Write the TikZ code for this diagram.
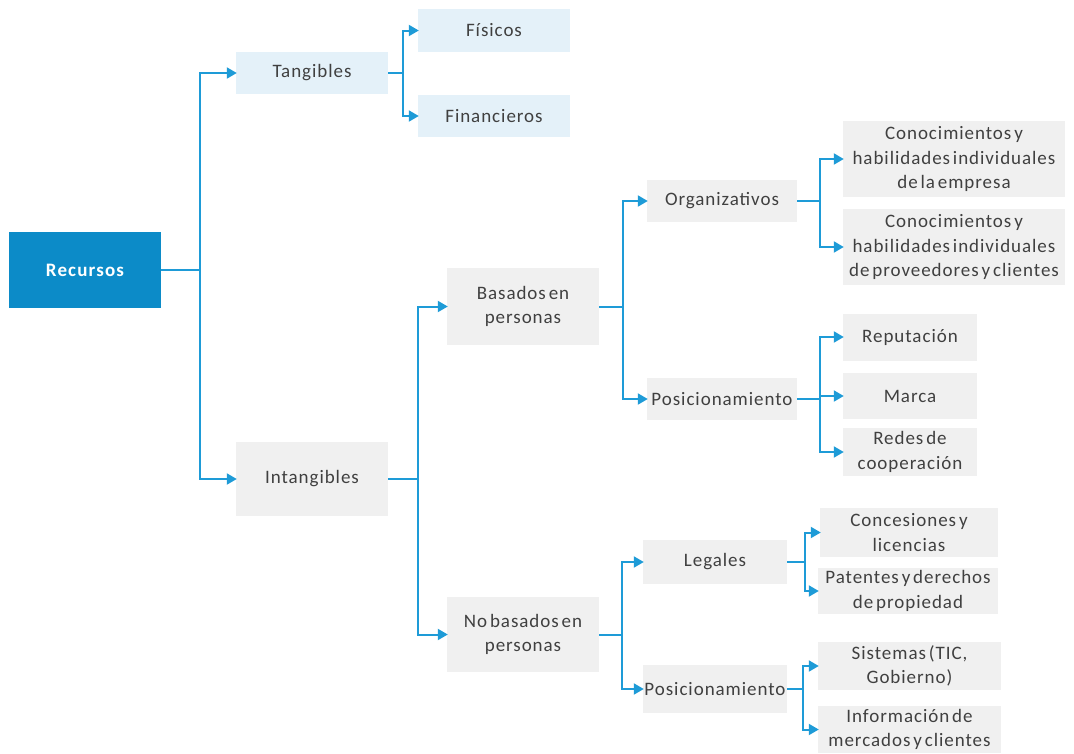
\documentclass[tikz,border=0pt]{standalone}
\usepackage{fontspec}
\setmainfont{Carlito}[LetterSpace=5,WordSpace=0.55]
\newfontfamily\rootfont{Carlito}[LetterSpace=6]
\usetikzlibrary{arrows.meta}
\definecolor{mainblue}{HTML}{0C8BC8}
\definecolor{lineblue}{HTML}{1E9BD7}
\definecolor{lightblue}{HTML}{E4F1F9}
\definecolor{lightgray}{HTML}{F0F0F0}
\definecolor{txt}{HTML}{404040}
\tikzset{
  box/.style={inner sep=0pt, align=center, text=txt, font=\fontsize{19}{24.5}\selectfont},
  bluebox/.style={box, fill=lightblue},
  graybox/.style={box, fill=lightgray},
  rootbox/.style={box, fill=mainblue, text=white, font=\rootfont\fontsize{19}{22}\selectfont\bfseries},
  wire/.style={draw=lineblue, line width=2pt},
  arr/.style={wire, -{Triangle[length=10pt,width=11pt]}, shorten >=-1pt}
}
\begin{document}
\begin{tikzpicture}[x=1pt,y=-1pt]
\useasboundingbox (0,0) rectangle (1074,753);
% nodes
\node[rootbox, minimum width=152pt, minimum height=76pt] (rec) at (85,270) {Recursos};
\node[bluebox, minimum width=152pt, minimum height=42pt] (tang) at (312,73) {Tangibles};
\node[bluebox, minimum width=152pt, minimum height=43pt] (fis) at (494,30.5) {Físicos};
\node[bluebox, minimum width=152pt, minimum height=42pt] (fin) at (494,116) {Financieros};
\node[graybox, minimum width=152pt, minimum height=74pt] (intg) at (312,479) {Intangibles};
\node[graybox, minimum width=152pt, minimum height=77pt] (bas) at (523,306.5) {Basados en\\personas};
\node[graybox, minimum width=152pt, minimum height=75pt] (nob) at (523,634.5) {No basados en\\personas};
\node[graybox, minimum width=150pt, minimum height=42pt] (org) at (722,201) {Organizativos};
\node[graybox, minimum width=150pt, minimum height=42pt] (pos) at (722,399) {Posicionamiento};
\node[graybox, minimum width=222pt, minimum height=76pt] (con1) at (954,159) {Conocimientos y\\habilidades individuales\\de la empresa};
\node[graybox, minimum width=222pt, minimum height=76pt] (con2) at (954,247) {Conocimientos y\\habilidades individuales\\de proveedores y clientes};
\node[graybox, minimum width=134pt, minimum height=47pt] (rep) at (910,337) {Reputación};
\node[graybox, minimum width=134pt, minimum height=46pt] (mar) at (910,396) {Marca};
\node[graybox, minimum width=134pt, minimum height=48pt] (red) at (910,452) {Redes de\\cooperación};
\node[graybox, minimum width=144pt, minimum height=44pt] (leg) at (715,562) {Legales};
\node[graybox, minimum width=144pt, minimum height=48pt] (pos2) at (715,689) {Posicionamiento};
\node[graybox, minimum width=178pt, minimum height=49pt] (cns) at (909,532.5) {Concesiones y\\licencias};
\node[graybox, minimum width=180pt, minimum height=46pt] (pat) at (908,591) {Patentes y derechos\\de propiedad};
\node[graybox, minimum width=183pt, minimum height=48pt] (sis) at (909.5,666) {Sistemas (TIC,\\Gobierno)};
\node[graybox, minimum width=183pt, minimum height=47pt] (inf) at (909.5,729.5) {Información de\\mercados y clientes};
% junction coordinates
\coordinate (j0) at (200,270);
\coordinate (j1) at (403,73);
\coordinate (j2) at (418,479);
\coordinate (j3) at (623,306.5);
\coordinate (j4) at (820,201);
\coordinate (j5) at (820,399);
\coordinate (j6) at (622,634.5);
\coordinate (j7) at (805,562);
\coordinate (j8) at (803,689);
% connectors
\draw[wire] (rec.east) -- (j0);
\draw[arr] (j0) |- (tang.west);
\draw[arr] (j0) |- (intg.west);
\draw[wire] (tang.east) -- (j1);
\draw[arr] (j1) |- (fis.west);
\draw[arr] (j1) |- (fin.west);
\draw[wire] (intg.east) -- (j2);
\draw[arr] (j2) |- (bas.west);
\draw[arr] (j2) |- (nob.west);
\draw[wire] (bas.east) -- (j3);
\draw[arr] (j3) |- (org.west);
\draw[arr] (j3) |- (pos.west);
\draw[wire] (org.east) -- (j4);
\draw[arr] (j4) |- (con1.west);
\draw[arr] (j4) |- (con2.west);
\draw[wire] (pos.east) -- (j5);
\draw[arr] (j5) |- (rep.west);
\draw[arr] (j5) |- (mar.west);
\draw[arr] (j5) |- (red.west);
\draw[wire] (nob.east) -- (j6);
\draw[arr] (j6) |- (leg.west);
\draw[arr] (j6) |- (pos2.west);
\draw[wire] (leg.east) -- (j7);
\draw[arr] (j7) |- (cns.west);
\draw[arr] (j7) |- (pat.west);
\draw[wire] (pos2.east) -- (j8);
\draw[arr] (j8) |- (sis.west);
\draw[arr] (j8) |- (inf.west);
\end{tikzpicture}
\end{document}
